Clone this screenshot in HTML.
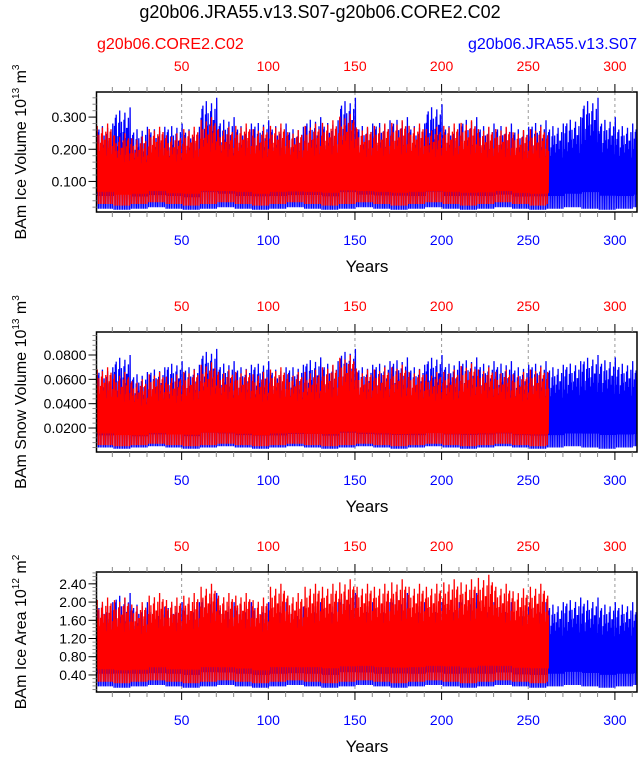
<!DOCTYPE html>
<html><head><meta charset="utf-8"><style>
body{margin:0;background:#fff;}
svg text{font-family:"Liberation Sans",Arial,sans-serif;}
</style></head><body>
<svg id="c" width="639" height="753" xmlns="http://www.w3.org/2000/svg">
<text x="320" y="18" font-size="18" text-anchor="middle">g20b06.JRA55.v13.S07-g20b06.CORE2.C02</text>
<text x="97" y="49" font-size="16" fill="#f00">g20b06.CORE2.C02</text>
<text x="637" y="49" font-size="16" fill="#00f" text-anchor="end">g20b06.JRA55.v13.S07</text>
</svg>
<script>
// decadal blocks (years 1-10, 11-20, ...) envelope values
const iceVolBlueHi=[0.28,0.33,0.27,0.27,0.28,0.27,0.36,0.30,0.28,0.29,0.28,0.27,0.30,0.29,0.36,0.28,0.29,0.30,0.28,0.34,0.28,0.30,0.28,0.28,0.27,0.29,0.28,0.30,0.36,0.30,0.28,0.28];
const iceVolBlueLo=[0.015,0.012,0.015,0.02,0.015,0.012,0.015,0.02,0.015,0.012,0.015,0.02,0.015,0.012,0.015,0.02,0.015,0.012,0.015,0.02,0.015,0.012,0.015,0.02,0.015,0.012,0.015,0.02,0.015,0.012,0.015,0.02];
const iceVolRedHi=[0.28,0.25,0.24,0.27,0.25,0.27,0.30,0.27,0.28,0.27,0.28,0.26,0.28,0.29,0.31,0.27,0.28,0.29,0.28,0.27,0.28,0.29,0.27,0.27,0.26,0.27,0.25];
const iceVolRedLo=[0.03,0.025,0.03,0.035,0.03,0.025,0.03,0.035,0.03,0.025,0.03,0.035,0.03,0.025,0.03,0.035,0.03,0.025,0.03,0.035,0.03,0.025,0.03,0.035,0.03,0.025,0.03];
const snowBlueHi=[0.07,0.08,0.066,0.07,0.075,0.072,0.085,0.075,0.072,0.075,0.07,0.072,0.078,0.075,0.085,0.072,0.075,0.078,0.072,0.08,0.075,0.078,0.075,0.075,0.072,0.075,0.072,0.075,0.08,0.078,0.075,0.072];
const snowBlueLo=[0.004,0.003,0.004,0.005,0.004,0.003,0.004,0.005,0.004,0.003,0.004,0.005,0.004,0.003,0.004,0.005,0.004,0.003,0.004,0.005,0.004,0.003,0.004,0.005,0.004,0.003,0.004,0.005,0.004,0.003,0.004,0.005];
const snowRedHi=[0.07,0.066,0.06,0.066,0.064,0.068,0.074,0.068,0.068,0.066,0.07,0.066,0.068,0.072,0.08,0.068,0.07,0.072,0.068,0.066,0.068,0.073,0.07,0.068,0.066,0.07,0.068];
const snowRedLo=[0.006,0.005,0.006,0.007,0.006,0.005,0.006,0.007,0.006,0.005,0.006,0.007,0.006,0.005,0.006,0.007,0.006,0.005,0.006,0.007,0.006,0.005,0.006,0.007,0.006,0.005,0.006];
const areaBlueHi=[2.0,2.2,2.0,1.9,2.0,2.0,2.2,2.0,2.0,2.0,2.0,1.9,2.0,2.0,2.2,2.0,2.0,2.2,2.0,2.0,2.0,2.2,2.0,2.0,1.9,2.0,2.0,2.1,2.1,2.0,2.0,1.9];
const areaBlueLo=[0.15,0.12,0.15,0.18,0.15,0.12,0.15,0.18,0.15,0.12,0.15,0.18,0.15,0.12,0.15,0.18,0.15,0.12,0.15,0.18,0.15,0.12,0.15,0.18,0.15,0.12,0.15,0.18,0.15,0.12,0.15,0.18];
const areaRedHi=[2.1,2.1,2.0,2.2,2.1,2.2,2.4,2.2,2.2,2.1,2.4,2.2,2.4,2.4,2.5,2.4,2.4,2.5,2.4,2.4,2.5,2.5,2.6,2.4,2.3,2.4,2.2];
const areaRedLo=[0.25,0.22,0.25,0.28,0.25,0.22,0.25,0.28,0.25,0.22,0.25,0.28,0.25,0.22,0.25,0.28,0.25,0.22,0.25,0.28,0.25,0.22,0.25,0.28,0.25,0.22,0.25];
// interannual shape within a decade (fraction of decadal peak), read from spikiness
const yearShape=[1.0,0.82,0.93,0.72,0.97,0.86,0.76,0.95,0.8,0.9];
const halfShape=[0.7,0.9,0.62,0.85,0.75,0.66,0.88,0.7,0.8,0.6];
const yearTicks=[50,100,150,200,250,300];
const iceVolTicks=[0.1,0.2,0.3];
const snowTicks=[0.02,0.04,0.06,0.08];
const areaTicks=[0.4,0.8,1.2,1.6,2.0,2.4];
const blueYears=313, redYears=261;

const NS='http://www.w3.org/2000/svg';
const svg=document.getElementById('c');
function mk(t,a,p){const e=document.createElementNS(NS,t);for(const k in a)e.setAttribute(k,a[k]);(p||svg).appendChild(e);return e;}
const X0=96.5,X1=637;
const xs=y=>95+(y)*1.733;
let pid=0;
function panel(top,yMin,yMax,ticks,fmt,label,sup,unit,series,name){
  const bot=top+120;
  const ys=v=>bot-(v-yMin)/(yMax-yMin)*120;
  const g=mk('g',{});
  
  
  const cid='clip'+(pid++);
  const cp=mk('clipPath',{id:cid},g);mk('rect',{x:X0,y:top,width:X1-X0,height:120},cp);
  yearTicks.forEach(t=>{if(xs(t)<X1){const l=mk('line',{x1:xs(t),x2:xs(t),y1:top,y2:bot,stroke:'#999','stroke-dasharray':'3,3'},g);}});
  const sg=mk('g',{'clip-path':`url(#${cid})`},g);
  series.forEach((s,si)=>{
    let d='';
    for(let y=1;y<=s.n;y++){const b=Math.floor((y-1)/10);const k=(y+si*3)%10;
      const lo=s.lo[b], hi=s.hi[b];
      const h1=lo+(hi-lo)*yearShape[k], h2=lo+(hi-lo)*halfShape[k];
      d+=(y===1?'M':'L')+xs(y).toFixed(1)+','+ys(lo).toFixed(1)
        +'L'+xs(y+0.25).toFixed(1)+','+ys(h1).toFixed(1)
        +'L'+xs(y+0.5).toFixed(1)+','+ys(lo+(hi-lo)*0.15).toFixed(1)
        +'L'+xs(y+0.75).toFixed(1)+','+ys(h2).toFixed(1);}
    const p=mk('path',{d:d,fill:'none',stroke:s.c,'stroke-width':1.3},sg);
    
    
  });
  const fr=mk('rect',{x:X0,y:top,width:X1-X0,height:120,fill:'none',stroke:'#000','stroke-width':1.5},g);
  
  for(let t=10;t<=310;t+=10){const x=xs(t);const maj=t%50===0;
    mk('line',{x1:x,x2:x,y1:top,y2:top-(maj?8:5),stroke:maj?'#000':'#888'},g);
    mk('line',{x1:x,x2:x,y1:bot,y2:bot+(maj?8:5),stroke:maj?'#000':'#888'},g);}
  yearTicks.forEach(t=>{
    const a=mk('text',{x:xs(t),y:top-21,'font-size':14,fill:'#f00','text-anchor':'middle'},g);a.textContent=t;
    
    const b=mk('text',{x:xs(t),y:bot+33,'font-size':14,fill:'#00f','text-anchor':'middle'},g);b.textContent=t;
    
  });
  const step=(ticks[1]-ticks[0])/5;
  for(let v=Math.ceil(yMin/step)*step;v<=yMax;v+=step){mk('line',{x1:X0,x2:X0-4,y1:ys(v),y2:ys(v),stroke:'#888'},g);}
  ticks.forEach(v=>{mk('line',{x1:X0,x2:X0-8,y1:ys(v),y2:ys(v),stroke:'#000'},g);
    const t=mk('text',{x:X0-10,y:ys(v)+5,'font-size':14,'text-anchor':'end'},g);t.textContent=fmt(v);
    });
  const xl=mk('text',{x:367,y:bot+60,'font-size':17,'text-anchor':'middle'},g);xl.textContent='Years';
  
  const yl=mk('text',{x:0,y:0,'font-size':16,'text-anchor':'middle',transform:`translate(26,${top+60}) rotate(-90)`},g);
  
  yl.appendChild(document.createTextNode(label+' 10'));
  const s1=mk('tspan',{dy:-7,'font-size':10},yl);s1.textContent=sup;
  const s2=mk('tspan',{dy:7},yl);s2.textContent=' '+unit.slice(0,1);
  const s3=mk('tspan',{dy:-7,'font-size':10},yl);s3.textContent=unit.slice(1);
}
panel(92,0.005,0.378,iceVolTicks,v=>v.toFixed(3),'BAm Ice Volume','13','m3',
 [{hi:iceVolBlueHi,lo:iceVolBlueLo,n:blueYears,c:'#00f',name:'series-jra55'},{hi:iceVolRedHi,lo:iceVolRedLo,n:redYears,c:'#f00',name:'series-core2'}],'ice-volume-panel');
panel(332,0.0003,0.0989,snowTicks,v=>v.toFixed(4),'BAm Snow Volume','13','m3',
 [{hi:snowBlueHi,lo:snowBlueLo,n:blueYears,c:'#00f',name:'series-jra55'},{hi:snowRedHi,lo:snowRedLo,n:redYears,c:'#f00',name:'series-core2'}],'snow-volume-panel');
panel(572,0.026,2.66,areaTicks,v=>v.toFixed(2),'BAm Ice Area','12','m2',
 [{hi:areaBlueHi,lo:areaBlueLo,n:blueYears,c:'#00f',name:'series-jra55'},{hi:areaRedHi,lo:areaRedLo,n:redYears,c:'#f00',name:'series-core2'}],'ice-area-panel');
</script>
</body></html>
